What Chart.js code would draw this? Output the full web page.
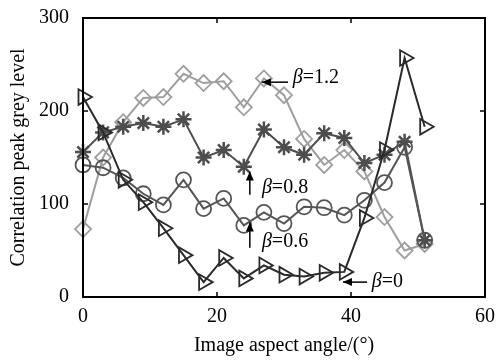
<!DOCTYPE html>
<html lang="en">
<head>
<meta charset="UTF-8">
<title>Correlation peak grey level</title>
<script src="https://cdn.jsdelivr.net/npm/chart.js"></script>
<style>
    body { margin: 0; background: #fff; }
    #wrap { width: 498px; height: 362px; }
</style>
</head>
<body>
<div id="wrap"><canvas id="chart"></canvas></div>
<script>
// data
const angles = [0, 3, 6, 9, 12, 15, 18, 21, 24, 27, 30, 33, 36, 39, 42, 45, 48, 51];
const beta12 = [73, 150, 188, 214, 215, 240, 230, 232, 204, 235, 217, 170, 142, 158, 135, 86, 50, 57];
const beta08 = [156, 177, 183, 187, 183, 191, 150, 158, 140, 180, 161, 153, 176, 171, 144, 153, 167, 61];
const beta06 = [142, 139, 128, 111, 99, 126, 95, 106, 77, 91, 79, 97, 96, 88, 104, 123, 161, 61];
const beta0  = [215, 177, 126, 102, 74, 45, 16, 42, 20, 34, 24, 22, 26, 27, 85, 158, 257, 183];
const xTicks = [0, 20, 40, 60];
const yTicks = [0, 100, 200, 300];

// β labels: arrow from (x1,y1) to tip (x2,y2), text at (tx,ty), all in data units
const notes = [
    { label: '=1.2', x1: 30.6, y1: 231, x2: 26.7, y2: 231, tx: 31.3, ty: 236 },
    { label: '=0.8', x1: 24.9, y1: 110, x2: 24.9, y2: 135, tx: 26.7, ty: 118 },
    { label: '=0.6', x1: 24.9, y1: 53,  x2: 24.9, y2: 80,  tx: 26.7, ty: 59 },
    { label: '=0',   x1: 42.4, y1: 16,  x2: 38.8, y2: 16,  tx: 43.1, ty: 16 }
];

const serif = '"Liberation Serif", "Times New Roman", serif';

function series(vals) {
    return vals.map((v, i) => ({ x: angles[i], y: v }));
}

function line(ctx, x1, y1, x2, y2) {
    ctx.beginPath(); ctx.moveTo(x1, y1); ctx.lineTo(x2, y2); ctx.stroke();
}

const framePlugin = {
    id: 'frame',
    afterDraw(chart) {
        const { ctx, chartArea: a, scales: { x, y } } = chart;
        ctx.save();
        ctx.strokeStyle = '#000';
        ctx.lineWidth = 2;
        ctx.strokeRect(a.left, a.top, a.right - a.left, a.bottom - a.top);
        ctx.lineWidth = 1.5;
        xTicks.forEach(v => {
            const p = x.getPixelForValue(v);
            line(ctx, p, a.bottom, p, a.bottom - 5);
            line(ctx, p, a.top, p, a.top + 5);
        });
        yTicks.forEach(v => {
            const p = y.getPixelForValue(v);
            line(ctx, a.left, p, a.left + 5, p);
            line(ctx, a.right, p, a.right - 5, p);
        });

        // arrows + beta labels
        ctx.fillStyle = '#000';
        ctx.lineWidth = 1.5;
        notes.forEach(n => {
            const x1 = x.getPixelForValue(n.x1), y1 = y.getPixelForValue(n.y1);
            const x2 = x.getPixelForValue(n.x2), y2 = y.getPixelForValue(n.y2);
            line(ctx, x1, y1, x2, y2);
            const ang = Math.atan2(y2 - y1, x2 - x1);
            const len = 9, w = 4;
            ctx.beginPath();
            ctx.moveTo(x2, y2);
            ctx.lineTo(x2 - len * Math.cos(ang) - w * Math.sin(ang), y2 - len * Math.sin(ang) + w * Math.cos(ang));
            ctx.lineTo(x2 - len * Math.cos(ang) + w * Math.sin(ang), y2 - len * Math.sin(ang) - w * Math.cos(ang));
            ctx.closePath();
            ctx.fill();

            const tx = x.getPixelForValue(n.tx), ty = y.getPixelForValue(n.ty);
            ctx.textBaseline = 'middle';
            ctx.textAlign = 'left';
            ctx.font = 'italic 20px ' + serif;
            ctx.fillText('\u03b2', tx, ty);
            const bw = ctx.measureText('\u03b2').width;
            ctx.font = '20px ' + serif;
            ctx.fillText(n.label, tx + bw, ty);
        });
        ctx.restore();
    }
};

const common = {
    fill: false,
    borderWidth: 2,
    pointBorderWidth: 1.8,
    pointBackgroundColor: 'rgba(0,0,0,0)',
    tension: 0,
    clip: false
};

new Chart(document.getElementById('chart'), {
    type: 'line',
    data: {
        datasets: [
            { ...common, label: 'beta=0', data: series(beta0), borderColor: '#2a2a2a', pointBorderColor: '#2a2a2a',
              pointStyle: 'triangle', pointRotation: 90, pointRadius: 9 },
            { ...common, label: 'beta=0.6', data: series(beta06), borderColor: '#555', pointBorderColor: '#555',
              pointStyle: 'circle', pointRadius: 7.5 },
            { ...common, label: 'beta=0.8', data: series(beta08), borderColor: '#4d4d4d', pointBorderColor: '#4d4d4d',
              pointStyle: 'star', pointRadius: 8, pointBorderWidth: 2.5 },
            { ...common, label: 'beta=1.2', data: series(beta12), borderColor: '#9e9e9e', pointBorderColor: '#9e9e9e',
              pointStyle: 'rectRot', pointRadius: 8 }
        ]
    },
    options: {
        responsive: true,
        maintainAspectRatio: false,
        animation: false,
        layout: { padding: { top: 18, right: 13, left: 7, bottom: 0 } },
        plugins: {
            legend: { display: false },
            tooltip: { enabled: false }
        },
        scales: {
            x: {
                type: 'linear',
                min: 0, max: 60,
                afterFit: s => { s.height = 65; },
                afterBuildTicks: s => { s.ticks = xTicks.map(v => ({ value: v })); },
                grid: { display: false },
                border: { display: false },
                ticks: { color: '#000', font: { family: serif, size: 20 }, padding: 0, maxRotation: 0 },
                title: { display: true, text: 'Image aspect angle/(\u00b0)', color: '#000',
                         font: { family: serif, size: 20 }, padding: { top: 10 } }
            },
            y: {
                min: 0, max: 300,
                afterFit: s => { s.width = 76; },
                afterBuildTicks: s => { s.ticks = yTicks.map(v => ({ value: v })); },
                grid: { display: false },
                border: { display: false },
                ticks: { color: '#000', font: { family: serif, size: 20 }, padding: 6 },
                title: { display: true, text: 'Correlation peak grey level', color: '#000',
                         font: { family: serif, size: 20 }, padding: 0 }
            }
        }
    },
    plugins: [framePlugin]
});
</script>
</body>
</html>
